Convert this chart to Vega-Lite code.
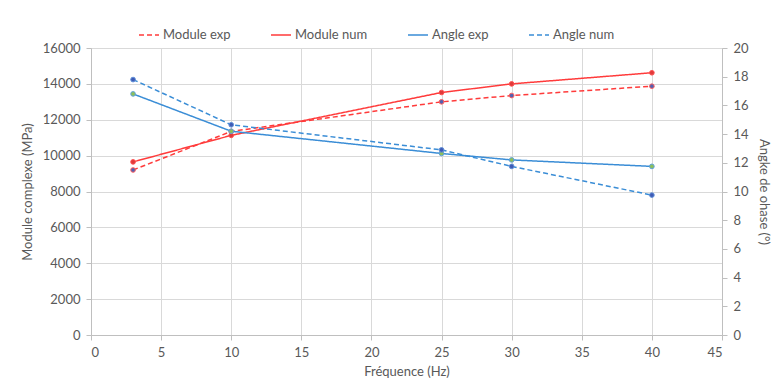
{
  "$schema": "https://vega.github.io/schema/vega-lite/v6.json",
  "width": 631,
  "height": 287,
  "autosize": {"type": "none"},
  "padding": {"left": 91, "top": 48, "right": 53, "bottom": 47},
  "background": "white",
  "config": {
    "font": "Lato",
    "view": {"stroke": null},
    "axis": {
      "labelColor": "#595959",
      "titleColor": "#595959",
      "labelFontSize": 13,
      "titleFontSize": 13,
      "titleFontWeight": "normal",
      "gridColor": "#D9D9D9",
      "domainColor": "#BFBFBF",
      "tickColor": "#BFBFBF",
      "tickSize": 5
    },
    "legend": {"labelColor": "#595959", "labelFontSize": 13}
  },
  "data": {
    "values": [
      {"freq": 3, "value": 9200, "series": "Module exp", "kind": "module"},
      {"freq": 10, "value": 11350, "series": "Module exp", "kind": "module"},
      {"freq": 25, "value": 13000, "series": "Module exp", "kind": "module"},
      {"freq": 30, "value": 13350, "series": "Module exp", "kind": "module"},
      {"freq": 40, "value": 13870, "series": "Module exp", "kind": "module"},
      {"freq": 3, "value": 9650, "series": "Module num", "kind": "module"},
      {"freq": 10, "value": 11130, "series": "Module num", "kind": "module"},
      {"freq": 25, "value": 13520, "series": "Module num", "kind": "module"},
      {"freq": 30, "value": 14000, "series": "Module num", "kind": "module"},
      {"freq": 40, "value": 14620, "series": "Module num", "kind": "module"},
      {"freq": 3, "value": 16.8, "series": "Angle exp", "kind": "angle"},
      {"freq": 10, "value": 14.2, "series": "Angle exp", "kind": "angle"},
      {"freq": 25, "value": 12.65, "series": "Angle exp", "kind": "angle"},
      {"freq": 30, "value": 12.2, "series": "Angle exp", "kind": "angle"},
      {"freq": 40, "value": 11.75, "series": "Angle exp", "kind": "angle"},
      {"freq": 3, "value": 17.8, "series": "Angle num", "kind": "angle"},
      {"freq": 10, "value": 14.65, "series": "Angle num", "kind": "angle"},
      {"freq": 25, "value": 12.9, "series": "Angle num", "kind": "angle"},
      {"freq": 30, "value": 11.75, "series": "Angle num", "kind": "angle"},
      {"freq": 40, "value": 9.75, "series": "Angle num", "kind": "angle"}
    ]
  },
  "encoding": {
    "x": {
      "field": "freq",
      "type": "quantitative",
      "scale": {"domain": [0, 45], "nice": false},
      "axis": {"title": "Fréquence (Hz)", "values": [0,5,10,15,20,25,30,35,40,45], "format": "d", "grid": true, "labelPadding": 6, "titlePadding": 6}
    }
  },
  "layer": [
    {
      "transform": [{"filter": "datum.kind === 'module'"}],
      "encoding": {
        "y": {
          "field": "value",
          "type": "quantitative",
          "scale": {"domain": [0, 16000], "nice": false},
          "axis": {"title": "Module complexe (MPa)", "orient": "left", "values": [0,2000,4000,6000,8000,10000,12000,14000,16000], "format": "d", "grid": true, "labelPadding": 6, "titlePadding": 8}
        }
      },
      "layer": [
        {
          "mark": {"type": "line", "strokeWidth": 1.5},
          "encoding": {
            "color": {"field": "series", "type": "nominal", "scale": {"domain": ["Module exp", "Module num", "Angle exp", "Angle num"], "range": ["#FF3B3B", "#FF3B3B", "#3A8DD6", "#3A8DD6"]}, "legend": {"title": null, "orient": "none", "direction": "horizontal", "legendX": 47, "legendY": -24, "symbolType": "stroke", "symbolSize": 400, "symbolStrokeWidth": 1.5, "columnPadding": 37, "labelOffset": 3}},
            "strokeDash": {"field": "series", "type": "nominal", "scale": {"domain": ["Module exp", "Module num", "Angle exp", "Angle num"], "range": [[5, 3], [1, 0], [1, 0], [5, 3]]}, "legend": {"title": null, "orient": "none", "direction": "horizontal", "legendX": 47, "legendY": -24, "symbolType": "stroke", "symbolSize": 400, "symbolStrokeWidth": 1.5, "columnPadding": 37, "labelOffset": 3}},
            "detail": {"field": "series"}
          }
        },
        {
          "mark": {"type": "point", "filled": true, "size": 22, "strokeWidth": 1, "opacity": 1},
          "encoding": {
            "fill": {"field": "series", "type": "nominal", "scale": {"domain": ["Module exp", "Module num", "Angle exp", "Angle num"], "range": ["#5360B0", "#E03A3A", "#8DBF5A", "#3F5BB5"]}, "legend": null},
            "stroke": {"field": "series", "type": "nominal", "scale": {"domain": ["Module exp", "Module num", "Angle exp", "Angle num"], "range": ["#FF6060", "#FF5050", "#5FA3DD", "#5F8FD8"]}, "legend": null}
          }
        }
      ]
    },
    {
      "transform": [{"filter": "datum.kind === 'angle'"}],
      "encoding": {
        "y": {
          "field": "value",
          "type": "quantitative",
          "scale": {"domain": [0, 20], "nice": false},
          "axis": {"title": "Angke de ohase (°)", "orient": "right", "values": [0,2,4,6,8,10,12,14,16,18,20], "format": "d", "grid": false, "labelPadding": 6, "titlePadding": 8}
        }
      },
      "layer": [
        {
          "mark": {"type": "line", "strokeWidth": 1.5},
          "encoding": {
            "color": {"field": "series", "type": "nominal"},
            "strokeDash": {"field": "series", "type": "nominal"},
            "detail": {"field": "series"}
          }
        },
        {
          "mark": {"type": "point", "filled": true, "size": 22, "strokeWidth": 1, "opacity": 1},
          "encoding": {
            "fill": {"field": "series", "type": "nominal", "legend": null},
            "stroke": {"field": "series", "type": "nominal", "legend": null}
          }
        }
      ]
    }
  ],
  "resolve": {"scale": {"y": "independent"}}
}
